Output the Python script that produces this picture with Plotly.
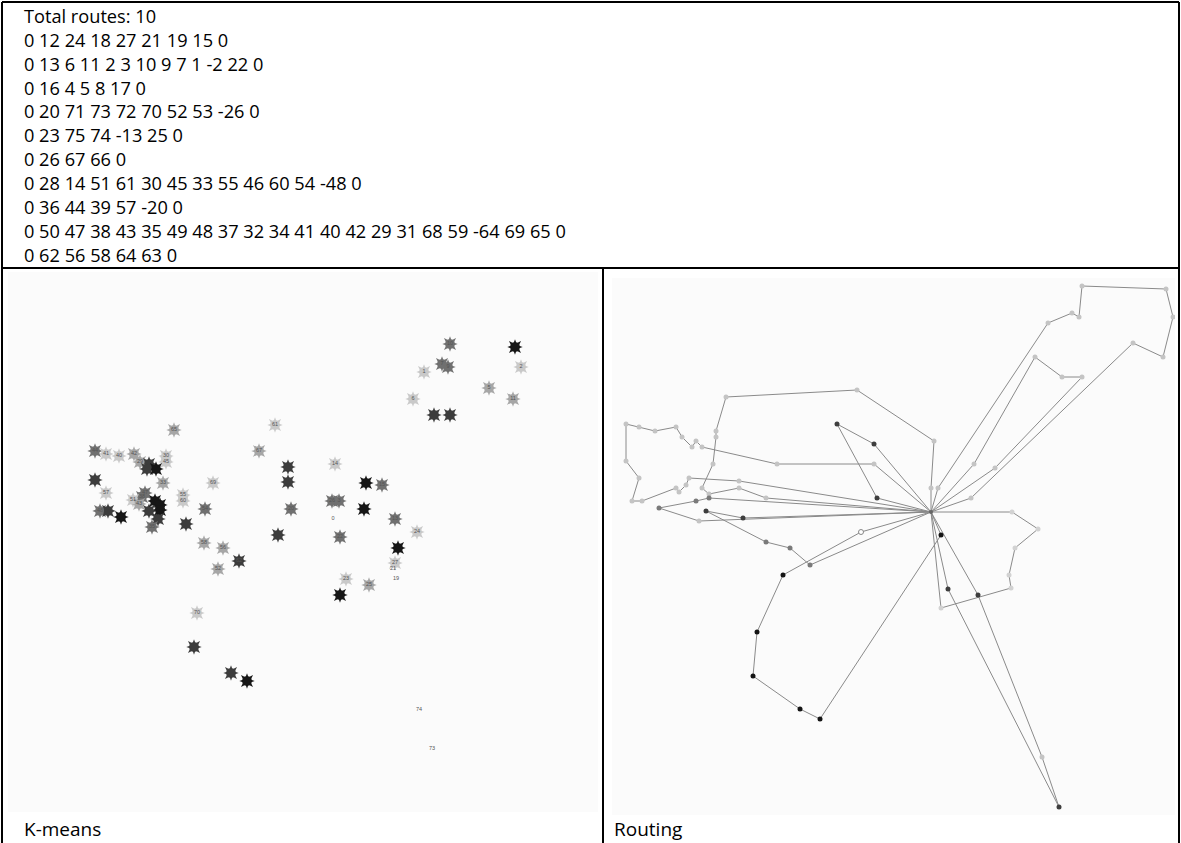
import plotly.graph_objects as go

W, H = 1181, 843

# ---------------- text panel ----------------
title_line = "Total routes: 10"
route_lines = [
    "0 12 24 18 27 21 19 15 0",
    "0 13 6 11 2 3 10 9 7 1 -2 22 0",
    "0 16 4 5 8 17 0",
    "0 20 71 73 72 70 52 53 -26 0",
    "0 23 75 74 -13 25 0",
    "0 26 67 66 0",
    "0 28 14 51 61 30 45 33 55 46 60 54 -48 0",
    "0 36 44 39 57 -20 0",
    "0 50 47 38 43 35 49 48 37 32 34 41 40 42 29 31 68 59 -64 69 65 0",
    "0 62 56 58 64 63 0",
]
panel_labels = ["K-means", "Routing"]

# ---------------- K-means panel (x, y, shade, label) ----------------
km_x = [95, 106, 119, 134, 140, 166, 166, 149, 147, 156, 95, 163, 213, 106, 145, 142, 133, 139,
        183, 183, 155, 160, 160, 100, 108, 121, 149, 158, 152, 205, 186, 174, 275, 259, 288, 288,
        291, 278, 204, 223, 239, 218, 450, 442, 448, 424, 413, 434, 450, 515, 521, 489, 513, 335,
        366, 382, 332, 339, 364, 333, 395, 340, 417, 398, 395, 393, 396, 346, 369, 340, 197, 194,
        231, 247, 419, 432]
km_y = [451, 454, 456, 454, 462, 456, 462, 464, 469, 469, 480, 483, 483, 493, 493, 497, 500, 504,
        495, 501, 501, 505, 510, 511, 511, 517, 511, 519, 527, 509, 524, 430, 425, 451, 467, 482,
        509, 535, 543, 548, 561, 569, 344, 364, 367, 372, 399, 415, 415, 347, 367, 388, 399, 464,
        483, 485, 501, 501, 509, 519, 519, 537, 532, 548, 563, 569, 579, 579, 585, 595, 613, 647,
        673, 681, 710, 749]
km_shade = ["m", "v", "v", "l", "l", "v", "v", "d", "d", "k", "d", "l", "v", "v", "m", "m", "v", "l",
            "v", "v", "k", "k", "k", "m", "d", "k", "d", "d", "m", "m", "d", "l", "v", "l", "d", "d",
            "m", "d", "l", "l", "d", "l", "m", "m", "m", "v", "v", "d", "d", "k", "v", "l", "l", "v",
            "k", "m", "m", "m", "k", "n", "m", "m", "v", "k", "v", "n", "n", "v", "l", "k", "v", "d",
            "d", "k", "n", "n"]
km_label = ["44", "41", "40", "42", "29", "30", "45", "", "", "", "", "33", "69", "57", "47", "38", "51", "43",
            "55", "60", "", "", "", "48", "", "", "", "", "35", "54", "", "65", "61", "67", "", "",
            "20", "", "58", "56", "62", "52", "10", "7", "9", "1", "6", "", "", "", "2", "5", "11", "14",
            "", "15", "26", "3", "", "0", "13", "22", "24", "", "27", "21", "19", "23", "25", "", "70", "",
            "", "", "74", "73"]

# ---------------- Routing panel ----------------
depot = (931, 512)
routes_x = [
    [874, 777, 702, 696, 692, 682, 676, 655, 639, 626, 626, 639, 632, 642, 676, 679, 686, 689, 739],
    [931, 934, 857, 726, 716, 716, 713, 702, 709, 739, 766],
    [709, 696, 659, 699],
    [743, 706, 766, 790, 810],
    [861, 783, 757, 753, 800, 820, 941],
    [874, 837, 877],
    [938, 1048, 1072, 1079, 1082, 1166, 1173, 1163, 1133, 971],
    [974, 1035, 1062, 1082, 995],
    [1012, 1038, 1015, 1009, 1011, 941],
    [948, 1059, 1042, 978],
]
routes_y = [
    [464, 464, 447, 441, 447, 437, 427, 431, 427, 424, 461, 478, 501, 501, 488, 492, 485, 478, 481],
    [488, 441, 390, 397, 431, 437, 464, 488, 494, 488, 498],
    [498, 501, 508, 521],
    [518, 511, 542, 548, 565],
    [532, 575, 632, 676, 709, 719, 535],
    [444, 424, 498],
    [488, 323, 313, 317, 286, 289, 317, 357, 343, 498],
    [464, 357, 377, 377, 468],
    [512, 529, 548, 575, 588, 608],
    [589, 807, 757, 595],
]
routes_shade = [
    ["l"] * 19,
    ["l"] * 11,
    ["m", "m", "m", "l"],
    ["d", "d", "m", "m", "m"],
    ["o", "k", "k", "k", "k", "k", "k"],
    ["d", "d", "d"],
    ["l"] * 10,
    ["l"] * 5,
    ["v"] * 6,
    ["d", "d", "l", "d"],
]

star_colors = {"k": "#161616", "d": "#3c3c3c", "m": "#707070", "l": "#a6a6a6", "v": "#c9c9c9",
               "n": "rgba(0,0,0,0)"}
dot_colors = {"k": "#141414", "d": "#3e3e3e", "m": "#7a7a7a", "l": "#c4c4c4", "v": "#d2d2d2",
              "o": "#ffffff"}

fig = go.Figure()

# K-means stars (8-point star: round body + two overlaid 4-point stars)
cols = [star_colors[s] for s in km_shade]
for sym, sz in [("circle", 9), ("star-diamond", 11), ("star-square", 11)]:
    fig.add_trace(go.Scatter(
        x=km_x, y=km_y, mode="markers", xaxis="x", yaxis="y", hoverinfo="skip",
        marker=dict(symbol=sym, size=sz, color=cols, line=dict(width=0)),
        showlegend=False))
fig.add_trace(go.Scatter(
    x=km_x, y=km_y, mode="text", text=km_label, xaxis="x", yaxis="y", hoverinfo="skip",
    textfont=dict(size=5.5, color="#555555", family="Liberation Sans"), showlegend=False))

# Routing lines
for rx, ry in zip(routes_x, routes_y):
    fig.add_trace(go.Scatter(
        x=[depot[0]] + rx + [depot[0]], y=[depot[1]] + ry + [depot[1]],
        mode="lines", xaxis="x2", yaxis="y2", hoverinfo="skip",
        line=dict(color="#8a8a8a", width=1), showlegend=False))
for rx, ry, rs in zip(routes_x, routes_y, routes_shade):
    fig.add_trace(go.Scatter(
        x=rx, y=ry, mode="markers", xaxis="x2", yaxis="y2", hoverinfo="skip",
        marker=dict(size=5, color=[dot_colors[s] for s in rs],
                    line=dict(width=[1 if s == "o" else 0 for s in rs], color="#888888")),
        showlegend=False))
fig.add_trace(go.Scatter(x=[depot[0]], y=[depot[1]], mode="markers", xaxis="x2", yaxis="y2",
                         marker=dict(size=4, color="#666666"), hoverinfo="skip", showlegend=False))


def px(x):
    return x / W


def py(y):
    return 1 - y / H


axis_common = dict(showgrid=False, zeroline=False, showticklabels=False, showline=False,
                   ticks="", fixedrange=True)
fig.update_layout(
    width=W, height=H, margin=dict(l=0, r=0, t=0, b=0),
    paper_bgcolor="white", plot_bgcolor="#fbfbfb",
    xaxis=dict(domain=[px(8), px(598)], range=[8, 598], **axis_common),
    yaxis=dict(domain=[py(812), py(272)], range=[812, 272], **axis_common),
    xaxis2=dict(domain=[px(612), px(1175)], range=[612, 1175], anchor="y2", **axis_common),
    yaxis2=dict(domain=[py(815), py(278)], range=[815, 278], anchor="x2", **axis_common),
)

# borders
line_style = dict(color="black", width=2)
shapes = [
    dict(type="line", xref="paper", yref="paper", x0=px(2), x1=px(1179), y0=py(2), y1=py(2), line=line_style),
    dict(type="line", xref="paper", yref="paper", x0=px(2), x1=px(2), y0=py(2), y1=py(843), line=line_style),
    dict(type="line", xref="paper", yref="paper", x0=px(1179), x1=px(1179), y0=py(2), y1=py(843), line=line_style),
    dict(type="line", xref="paper", yref="paper", x0=px(2), x1=px(1179), y0=py(268), y1=py(268), line=line_style),
    dict(type="line", xref="paper", yref="paper", x0=px(603), x1=px(603), y0=py(268), y1=py(843), line=line_style),
]
fig.update_layout(shapes=shapes)

# text lines
text_font = dict(family="Open Sans", size=18.2, color="black")
all_lines = [title_line] + route_lines
for i, t in enumerate(all_lines):
    fig.add_annotation(x=px(22), y=py(16 + i * 23.85), xref="paper", yref="paper", text=t,
                       showarrow=False, xanchor="left", yanchor="middle", font=text_font)

for lab, xx in zip(panel_labels, [22, 612]):
    fig.add_annotation(x=px(xx), y=py(829), xref="paper", yref="paper", text=lab, showarrow=False,
                       xanchor="left", yanchor="middle",
                       font=dict(family="Open Sans", size=19, color="black"))

fig.write_html("out.html", config={"displayModeBar": False},
               post_script="document.body.style.margin='0';document.body.style.overflow='hidden';")
